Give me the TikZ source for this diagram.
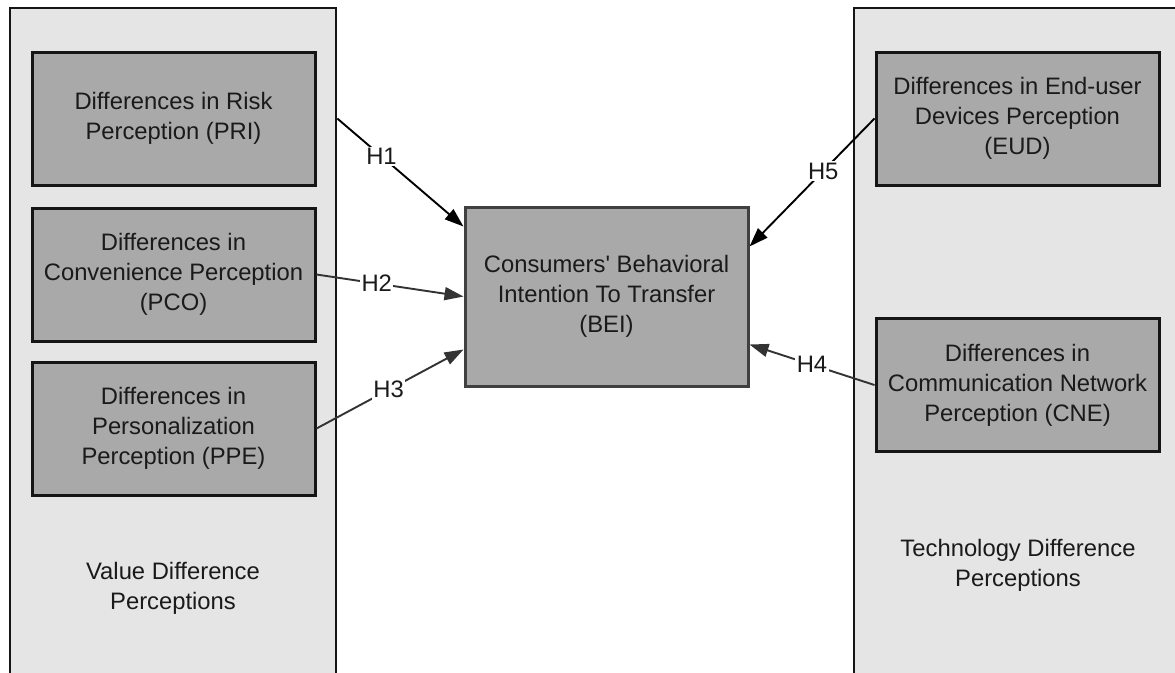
\documentclass[tikz,border=0pt]{standalone}
\usepackage{fontspec}
\setmainfont{Liberation Sans}
\usetikzlibrary{arrows.meta,calc}
\definecolor{panelgray}{HTML}{E5E5E5}
\definecolor{boxgray}{HTML}{A9A9A9}
\definecolor{txt}{HTML}{1A1A1A}
\definecolor{edgedark}{HTML}{151515}
\begin{document}
\begin{tikzpicture}[x=1pt,y=-1pt,
  panel/.style={draw=edgedark,fill=panelgray,line width=2.6pt,rectangle,inner sep=0pt},
  factor/.style={draw=edgedark,fill=boxgray,line width=3pt,rectangle,inner sep=0pt,
    minimum width=283pt,minimum height=133pt,align=center,text=txt,
    font=\fontsize{23.8}{30}\selectfont},
  central/.style={factor,draw=black!75,minimum height=179pt},
  plabel/.style={align=center,text=txt,font=\fontsize{23.8}{30}\selectfont},
  hyp/.style={line width=1.9pt,-{Triangle[length=19pt,width=13pt]}},
  hlabel/.style={fill=white,inner sep=1.5pt,text=txt,font=\fontsize{23.8}{26}\selectfont}
]
\useasboundingbox (0,0) rectangle (1175,672);
\fill[white] (0,0) rectangle (1175,672);
\clip (0,0) rectangle (1175,672);

% panels
\node[panel,minimum width=326pt,minimum height=680pt] (leftpanel) at (173,348) {};
\node[panel,minimum width=340pt,minimum height=680pt] (rightpanel) at (1024,348) {};
\node[plabel] (vlabel) at (173,588) {Value Difference\\Perceptions};
\node[plabel] (tlabel) at (1018,565) {Technology Difference\\Perceptions};

% factor boxes
\node[factor] (pri) at (173.5,118.5) {Differences in Risk\\Perception (PRI)};
\node[factor] (pco) at (173.5,274.5) {Differences in\\Convenience Perception\\(PCO)};
\node[factor] (ppe) at (173.5,428.5) {Differences in\\Personalization\\Perception (PPE)};
\node[factor] (eud) at (1017.5,118.5) {Differences in End-user\\Devices Perception\\(EUD)};
\node[factor] (cne) at (1017.5,385) {Differences in\\Communication Network\\Perception (CNE)};
\node[central] (bei) at (606.5,296.5) {Consumers\textquotesingle{} Behavioral\\Intention To Transfer\\(BEI)};

% hypotheses
\draw[hyp,black] (leftpanel.east |- pri.east) -- node[hlabel,pos=0.35] {H1} ([yshift=-21pt]bei.north west);
\draw[hyp,black!80] (pco.east) -- node[hlabel,pos=0.41] {H2} (bei.west);
\draw[hyp,black!80] (ppe.east) -- node[hlabel,pos=0.49] {H3} ([yshift=38pt]bei.south west);
\draw[hyp,black] (eud.west) -- node[hlabel,pos=0.41] {H5} ([yshift=-41pt]bei.north east);
\draw[hyp,black!80] (cne.west) -- node[hlabel,pos=0.5] {H4} ([yshift=43pt]bei.south east);
\end{tikzpicture}
\end{document}
